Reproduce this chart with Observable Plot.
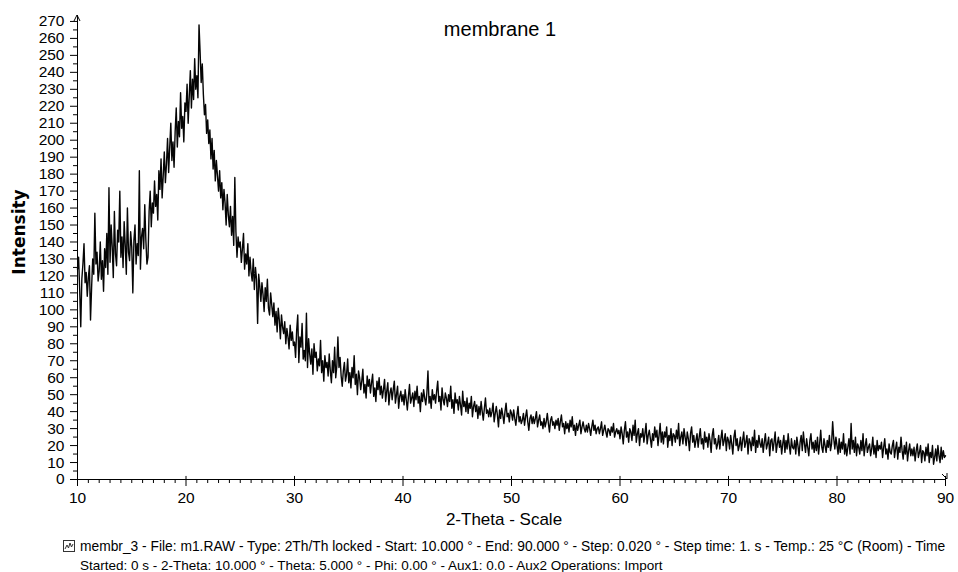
<!DOCTYPE html>
<html><head><meta charset="utf-8">
<script src="https://cdn.jsdelivr.net/npm/d3@7"></script>
<script src="https://cdn.jsdelivr.net/npm/@observablehq/plot@0.6"></script>
<style>html,body{margin:0;padding:0;background:#fff;overflow:hidden}</style>
</head><body><div id="chart"></div>
<script>
const twoThetaStart = 10;
const twoThetaStep = 0.1;
const counts10 = [124,131,112,90,118,127,139,116,122,108, 119,126,94,113,130,121,157,127,134,117, 123,140,118,129,111,136,125,145,121,172, 128,150,137,119,158,133,126,147,140,170, 131,143,125,152,138,121,160,134,129,146, 137,110,141,150,127,139,132,182,124,143, 148,136,162,141,127,131,158,170,149,163, 157,176,161,168,153,182,171,189,166,179, 193,175,186,201,181,196,210,188,199,184, 205,219,196,211,202,228,207,214,199,222];
const counts20 = [217,233,210,226,241,219,236,224,248,230, 238,225,268,252,234,245,227,215,221,204, 212,198,206,189,201,183,194,176,188,179, 170,182,166,175,159,171,163,150,168,156, 149,161,144,155,138,178,146,131,143,137, 140,128,136,145,124,133,127,139,120,131, 122,117,130,112,125,118,92,121,114,105, 116,109,99,113,105,118,101,97,110,103, 96,104,91,99,87,101,94,83,97,90, 86,93,80,89,84,77,91,82,87,79];
const counts30 = [81,72,88,97,69,84,78,92,71,76, 70,98,66,83,74,68,77,62,80,72, 75,64,71,67,82,63,70,58,73,66, 69,61,74,64,57,70,63,78,60,67, 84,66,72,61,55,64,69,58,62,71, 57,63,54,66,60,73,56,62,50,64, 60,53,58,65,51,56,48,61,55,59, 51,57,62,49,54,46,58,53,60,50, 55,48,53,59,46,52,57,44,51,54, 47,53,58,45,50,55,42,49,52,46];
const counts40 = [50,44,53,47,41,49,56,45,48,51, 43,52,47,55,45,49,40,51,46,53, 48,44,51,64,45,49,42,53,47,50, 45,52,58,46,49,41,54,47,44,51, 48,43,50,46,55,42,47,39,51,45, 47,41,49,44,38,52,43,46,40,48, 39,45,42,49,37,43,46,40,44,36, 43,38,46,40,35,42,48,39,41,37, 42,37,40,45,34,39,43,38,31,41, 36,42,38,33,40,45,37,39,34,41];
const counts50 = [39,35,41,36,32,38,43,34,37,33, 35,39,32,37,41,34,29,36,38,33, 37,33,36,40,31,35,38,32,34,30, 36,31,34,39,33,28,35,37,32,34, 30,35,32,36,29,34,38,31,33,27, 34,30,33,28,35,31,37,29,32,26, 33,29,32,35,27,31,34,30,28,32, 28,33,30,26,31,35,29,32,27,30, 31,27,30,34,26,29,32,28,25,30, 29,26,31,28,33,25,28,30,27,29];
const counts60 = [24,31,27,21,29,34,25,28,22,30, 28,23,32,26,35,22,27,30,20,27, 25,30,22,27,33,21,26,29,24,19, 27,23,31,25,29,20,26,33,22,28, 21,28,25,31,19,26,23,30,20,27, 26,22,29,24,33,20,25,28,21,30, 25,20,28,24,17,27,31,22,26,19, 23,27,19,25,30,21,24,18,28,22, 25,19,27,23,16,26,30,21,24,18, 21,26,18,24,29,20,23,27,17,25];
const counts70 = [23,18,26,21,15,25,29,20,24,17, 20,25,17,23,28,19,22,26,15,24, 22,17,25,20,29,16,23,19,26,21, 19,24,16,22,27,18,21,25,14,23, 24,17,22,28,16,21,25,19,23,15, 21,26,16,23,18,27,20,15,24,19, 18,23,15,25,20,14,22,26,17,28, 21,16,24,19,14,23,27,18,22,16, 23,17,25,15,21,29,19,16,24,20, 16,23,19,26,17,21,34,24,18,25];
const counts80 = [20,15,24,16,22,18,27,15,21,14, 19,24,15,33,18,23,16,25,14,21, 19,15,23,17,27,14,20,24,16,19, 21,14,18,25,15,20,13,23,17,20, 18,22,13,19,24,15,18,12,21,16, 15,20,23,13,18,22,12,19,16,25, 17,12,20,15,22,11,17,21,14,18, 14,19,11,17,21,13,16,20,10,17, 16,11,19,14,21,10,16,13,20,9, 13,18,11,20,14,10,19,12,17,13];
const counts90 = [14];

const xTicks = [10, 20, 30, 40, 50, 60, 70, 80, 90];
const yTicks = [0,10,20,30,40,50,60,70,80,90,100,110,120,130,140,150,160,170,180,190,200,210,220,230,240,250,260,270];

const titleText = "membrane 1";
const xLabel = "2-Theta - Scale";
const yLabel = "Intensity";
const captionLine1 = "membr_3 - File: m1.RAW - Type: 2Th/Th locked - Start: 10.000 ° - End: 90.000 ° - Step: 0.020 ° - Step time: 1. s - Temp.: 25 °C (Room) - Time";
const captionLine2 = "Started: 0 s - 2-Theta: 10.000 ° - Theta: 5.000 ° - Phi: 0.00 ° - Aux1: 0.0 - Aux2 Operations: Import";

const allCounts = [counts10, counts20, counts30, counts40, counts50, counts60, counts70, counts80, counts90].flat();
const data = allCounts.map((c, i) => ({twoTheta: +(twoThetaStart + i * twoThetaStep).toFixed(2), intensity: c}));

const xMinor = d3.range(10, 91, 1).filter(v => v % 10 !== 0);
const yMinor = yTicks.map(v => v + 5).filter(v => v < 273);

const W = 958, H = 572;
const font = "'Liberation Sans', Arial, sans-serif";
const plot = Plot.plot({
  width: W, height: H,
  marginLeft: 77, marginRight: 13, marginTop: 15, marginBottom: 93,
  style: {fontFamily: font, background: "white", color: "black", overflow: "visible"},
  x: {domain: [10, 90]},
  y: {domain: [0, 273.5]},
  marks: [
    Plot.axisY({ticks: yTicks, tickSize: 7, tickPadding: 6, fontSize: 15.5, label: null, tickFormat: d => String(d)}),
    Plot.axisY({ticks: yMinor, tickSize: 4, label: null, tickFormat: () => ""}),
    Plot.axisX({ticks: xTicks, tickSize: 7, tickPadding: 5, fontSize: 15.5, label: null, tickFormat: d => String(d)}),
    Plot.axisX({ticks: xMinor, tickSize: 4, label: null, tickFormat: () => ""}),
    Plot.ruleX(xTicks, {y1: 0, y2: 1.8}),
    Plot.ruleY([0]),
    Plot.ruleX([10]),
    Plot.line(data, {x: "twoTheta", y: "intensity", stroke: "#050505", strokeWidth: 1.4})
  ]
});
document.getElementById("chart").appendChild(plot);

const sx = plot.scale("x"), sy = plot.scale("y");
const svg = d3.select(plot);
const ax = sx.apply(10), ay = sy.apply(0);
const topY = sy.apply(273.5), rightX = sx.apply(90);
// axis arrowheads
svg.append("path").attr("d", `M${ax-3},${topY+6}L${ax},${topY}L${ax+3},${topY+6}`).attr("fill", "none").attr("stroke", "black");
svg.append("path").attr("d", `M${rightX-3},${ay-5}L${rightX+2},${ay}`).attr("fill", "none").attr("stroke", "black");
svg.append("path").attr("d", `M${rightX+2},${ay}L${rightX+2},${ay-6}`).attr("fill", "none").attr("stroke", "black");

svg.append("text").attr("x", 500).attr("y", 36).attr("text-anchor", "middle")
  .attr("font-family", font).attr("font-size", 20).attr("fill", "black").text(titleText);
svg.append("text").attr("x", 504).attr("y", 525).attr("text-anchor", "middle")
  .attr("font-family", font).attr("font-size", 17).attr("fill", "black").text(xLabel);
svg.append("text").attr("transform", "translate(25,232) rotate(-90)").attr("text-anchor", "middle")
  .attr("font-family", "'DejaVu Sans', Verdana, sans-serif").attr("font-weight", "bold").attr("font-size", 17).attr("fill", "black").text(yLabel);
svg.append("text").attr("x", 80).attr("y", 551).attr("text-anchor", "start").attr("font-family", font).attr("font-size", 13.8).attr("fill", "black").text(captionLine1);
svg.append("text").attr("x", 80).attr("y", 570).attr("text-anchor", "start").attr("font-family", font).attr("font-size", 13.5).attr("fill", "black").text(captionLine2);
// small legend icon
svg.append("rect").attr("x", 63.5).attr("y", 540.5).attr("width", 11).attr("height", 11).attr("fill", "white").attr("stroke", "#333");
svg.append("path").attr("d", "M65,549L67,545L68.5,548L70,543L71.5,547L73,544").attr("fill", "none").attr("stroke", "#333").attr("stroke-width", 1);
</script>
</body></html>
